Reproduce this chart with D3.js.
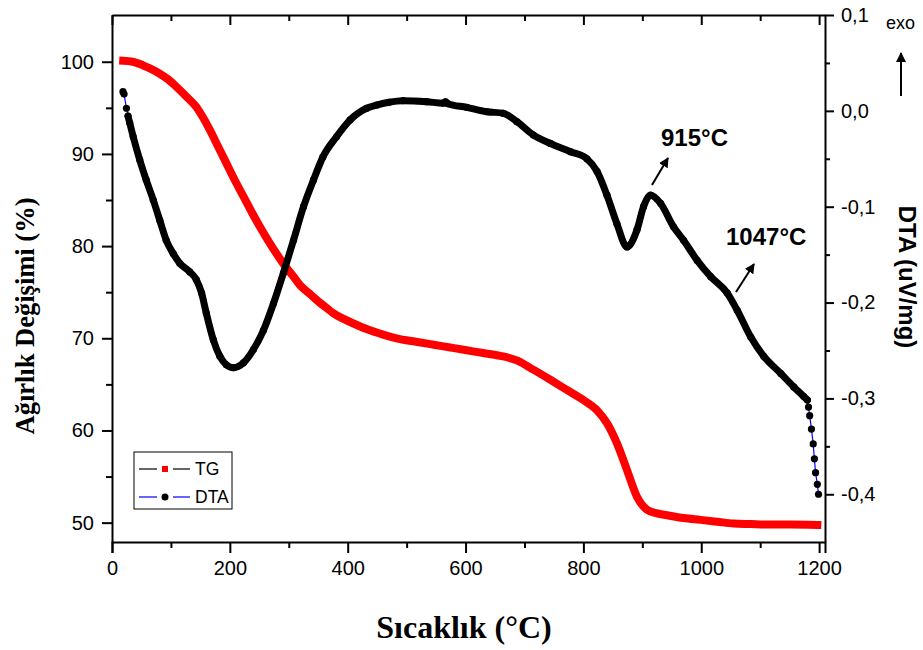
<!DOCTYPE html>
<html>
<head>
<meta charset="utf-8">
<script src="https://cdn.jsdelivr.net/npm/d3@7"></script>
<style>
  html, body { margin: 0; padding: 0; background: #fff; }
  svg { display: block; }
  .tick text { font-family: Arial, "Liberation Sans", sans-serif; }
</style>
</head>
<body>
<svg id="chart" width="923" height="650"></svg>
<script>
// ---------------- DATA ----------------
const xTicks = [0, 200, 400, 600, 800, 1000, 1200];
const leftTicks = [50, 60, 70, 80, 90, 100];
const rightTicks = [-0.4, -0.3, -0.2, -0.1, 0.0, 0.1];

const tgTemp = [19, 35, 53, 67, 81, 95, 109, 125, 143, 155, 166, 180, 194, 208, 223, 237, 251, 265, 279, 293, 308, 320, 336, 350, 364, 376, 393, 410, 432, 460, 489, 518, 546, 574, 602, 630, 659, 687, 715, 744, 772, 800, 823, 840, 857, 874, 891, 908, 925, 942, 970, 999, 1027, 1055, 1084, 1112, 1150, 1197];
const tgValue = [100.1, 100.0, 99.6, 99.2, 98.7, 98.1, 97.3, 96.3, 95.1, 93.9, 92.6, 90.8, 89.0, 87.2, 85.4, 83.7, 82.1, 80.6, 79.2, 77.9, 76.7, 75.7, 74.8, 74.0, 73.3, 72.7, 72.1, 71.6, 71.0, 70.4, 69.9, 69.6, 69.3, 69.0, 68.7, 68.4, 68.1, 67.6, 66.6, 65.5, 64.4, 63.3, 62.2, 60.8, 58.6, 55.7, 52.8, 51.4, 51.0, 50.8, 50.5, 50.3, 50.1, 49.9, 49.85, 49.8, 49.8, 49.75];

const dtaTemp = [18.6, 20.5, 24.5, 27.2, 30, 36, 47, 58, 70, 81, 92, 104, 115, 132, 143, 152, 160, 172, 183, 194, 206, 223, 240, 257, 274, 291, 308, 325, 342, 358, 381, 404, 432, 449, 470, 494, 534, 562, 566, 570, 602, 636, 664, 687, 715, 744, 778, 806, 823, 840, 857, 874, 891, 902, 914, 931, 953, 970, 993, 1016, 1044, 1061, 1084, 1106, 1135, 1157, 1174, 1180, 1182, 1184, 1187, 1190, 1192, 1194, 1197, 1199];
const dtaValue = [0.020, 0.0175, 0.0027, -0.0054, -0.0124, -0.027, -0.051, -0.072, -0.093, -0.114, -0.135, -0.149, -0.159, -0.168, -0.176, -0.190, -0.211, -0.239, -0.256, -0.265, -0.268, -0.263, -0.249, -0.229, -0.201, -0.169, -0.135, -0.100, -0.072, -0.048, -0.027, -0.0095, 0.0027, 0.0061, 0.0090, 0.0106, 0.0096, 0.0080, 0.0095, 0.0075, 0.0037, -0.0009, -0.0025, -0.0113, -0.0252, -0.034, -0.0426, -0.050, -0.063, -0.088, -0.118, -0.142, -0.124, -0.100, -0.088, -0.0965, -0.121, -0.135, -0.156, -0.173, -0.190, -0.208, -0.236, -0.256, -0.274, -0.288, -0.298, -0.3016, -0.309, -0.318, -0.332, -0.3475, -0.363, -0.3775, -0.3896, -0.400];

const seriesNames = ["TG", "DTA"];
const annotations = [{ label: "915°C", temp: 915 }, { label: "1047°C", temp: 1047 }];

// ---------------- LAYOUT ----------------
const svg = d3.select("#chart");
const L = 112, R = 825, T = 15, B = 542;

const x = d3.scaleLinear().domain([0, 1210]).range([L, R]);
const yL = d3.scaleLinear().domain([47.9, 105.07]).range([B, T]);
const yR = d3.scaleLinear().domain([-0.4498, 0.1]).range([B, T]);

const fontTick = "20px";
const fmtComma = v => v.toFixed(1).replace(".", ",");

// ---------------- AXES ----------------
function styleAxis(g) {
  g.selectAll("path.domain").attr("stroke", "#000").attr("stroke-width", 2);
  g.selectAll(".tick line").attr("stroke", "#000").attr("stroke-width", 2);
  g.selectAll(".tick text").attr("fill", "#000").attr("font-size", fontTick);
}

const xMinor = d3.range(100, 1201, 200);
const leftMinor = d3.range(55, 100, 10);
const rightMinor = [-0.35, -0.25, -0.15, -0.05, 0.05];

// bottom
svg.append("g").attr("transform", `translate(0,${B})`)
  .call(d3.axisBottom(x).tickValues(xTicks).tickSize(11).tickPadding(8).tickFormat(d3.format("d")))
  .call(styleAxis);
svg.append("g").attr("transform", `translate(0,${B})`)
  .call(d3.axisBottom(x).tickValues(xMinor).tickSize(6).tickFormat(""))
  .call(styleAxis).select("path.domain").remove();
// top (inward ticks)
svg.append("g").attr("transform", `translate(0,${T})`)
  .call(d3.axisBottom(x).tickValues(xTicks).tickSize(10).tickFormat("").tickSizeOuter(0))
  .call(styleAxis);
svg.append("g").attr("transform", `translate(0,${T})`)
  .call(d3.axisBottom(x).tickValues(xMinor).tickSize(6).tickFormat(""))
  .call(styleAxis).select("path.domain").remove();
// left
svg.append("g").attr("transform", `translate(${L},0)`)
  .call(d3.axisLeft(yL).tickValues(leftTicks).tickSize(10).tickPadding(8).tickFormat(d3.format("d")).tickSizeOuter(0))
  .call(styleAxis);
svg.append("g").attr("transform", `translate(${L},0)`)
  .call(d3.axisLeft(yL).tickValues(leftMinor).tickSize(6).tickFormat(""))
  .call(styleAxis).select("path.domain").remove();
// right
svg.append("g").attr("transform", `translate(${R},0)`)
  .call(d3.axisRight(yR).tickValues(rightTicks).tickSize(9).tickPadding(7).tickFormat(fmtComma).tickSizeOuter(0))
  .call(styleAxis);
svg.append("g").attr("transform", `translate(${R},0)`)
  .call(d3.axisRight(yR).tickValues(rightMinor).tickSize(5).tickFormat(""))
  .call(styleAxis).select("path.domain").remove();

// ---------------- SERIES ----------------
const tgData = tgTemp.map((t, i) => ({ t, v: tgValue[i] }));
const dtaData = dtaTemp.map((t, i) => ({ t, v: dtaValue[i] }));

// TG: dense square markers rendered as a thick band
const tgLine = d3.line().x(d => x(d.t)).y(d => yL(d.v)).curve(d3.curveMonotoneX);
svg.append("path").datum(tgData).attr("d", tgLine)
  .attr("fill", "none").attr("stroke", "#ff0000").attr("stroke-width", 8)
  .attr("stroke-linecap", "square").attr("stroke-linejoin", "round");

// DTA: thin blue connecting line, dense black markers
const dtaLineThin = d3.line().x(d => x(d.t)).y(d => yR(d.v));
svg.append("path").datum(dtaData).attr("d", dtaLineThin)
  .attr("fill", "none").attr("stroke", "#0000ff").attr("stroke-width", 1.2);
const dtaDense = dtaData.filter(d => d.t >= 27 && d.t <= 1180);
const dtaLine = d3.line().x(d => x(d.t)).y(d => yR(d.v)).curve(d3.curveMonotoneX);
svg.append("path").datum(dtaDense).attr("d", dtaLine)
  .attr("fill", "none").attr("stroke", "#000").attr("stroke-width", 7)
  .attr("stroke-linecap", "round").attr("stroke-linejoin", "round");
svg.append("g").selectAll("circle").data(dtaData).join("circle")
  .attr("cx", d => x(d.t)).attr("cy", d => yR(d.v)).attr("r", 3.6).attr("fill", "#000");

// ---------------- ANNOTATIONS ----------------
svg.append("defs").append("marker")
  .attr("id", "ah").attr("viewBox", "0 0 10 10").attr("refX", 9).attr("refY", 5)
  .attr("markerWidth", 5).attr("markerHeight", 5).attr("orient", "auto")
  .append("path").attr("d", "M0,0 L10,5 L0,10 Z").attr("fill", "#000");

function arrow(x1, y1, x2, y2) {
  svg.append("line").attr("x1", x1).attr("y1", y1).attr("x2", x2).attr("y2", y2)
    .attr("stroke", "#000").attr("stroke-width", 2).attr("marker-end", "url(#ah)");
}
arrow(652, 185, 668, 158);
arrow(736, 292, 754, 264);
svg.append("text").attr("x", 661).attr("y", 146).text(annotations[0].label)
  .attr("font-family", "Arial, 'Liberation Sans', sans-serif").attr("font-weight", "bold").attr("font-size", "24px");
svg.append("text").attr("x", 726).attr("y", 245).text(annotations[1].label)
  .attr("font-family", "Arial, 'Liberation Sans', sans-serif").attr("font-weight", "bold").attr("font-size", "24px");

// exo arrow
svg.append("text").attr("x", 886).attr("y", 29).text("exo")
  .attr("font-family", "Arial, 'Liberation Sans', sans-serif").attr("font-size", "18px");
arrow(901, 96, 901, 53);

// ---------------- TITLES ----------------
svg.append("text").attr("x", 464).attr("y", 638).attr("text-anchor", "middle")
  .attr("font-family", "'Liberation Serif', 'Times New Roman', serif").attr("font-weight", "bold").attr("font-size", "32px")
  .text("Sıcaklık (°C)");
svg.append("text").attr("transform", "translate(34,316) rotate(-90)").attr("text-anchor", "middle")
  .attr("font-family", "'Liberation Serif', 'Times New Roman', serif").attr("font-weight", "bold").attr("font-size", "26.5px")
  .text("Ağırlık Değişimi (%)");
svg.append("text").attr("transform", "translate(899,277) rotate(90)").attr("text-anchor", "middle")
  .attr("font-family", "Arial, 'Liberation Sans', sans-serif").attr("font-weight", "bold").attr("font-size", "24px")
  .text("DTA (uV/mg)");

// ---------------- LEGEND ----------------
const lg = svg.append("g");
lg.append("rect").attr("x", 134).attr("y", 452).attr("width", 98).attr("height", 57)
  .attr("fill", "#fff").attr("stroke", "#000").attr("stroke-width", 1);
const rows = [{ name: seriesNames[0], y: 469, line: "#000" }, { name: seriesNames[1], y: 497, line: "#0000ff" }];
rows.forEach((r, i) => {
  lg.append("line").attr("x1", 139).attr("x2", 157).attr("y1", r.y).attr("y2", r.y).attr("stroke", r.line).attr("stroke-width", 1.2);
  lg.append("line").attr("x1", 173).attr("x2", 190).attr("y1", r.y).attr("y2", r.y).attr("stroke", r.line).attr("stroke-width", 1.2);
  if (i === 0) {
    lg.append("rect").attr("x", 162).attr("y", r.y - 3).attr("width", 6).attr("height", 6).attr("fill", "#ff0000");
  } else {
    lg.append("circle").attr("cx", 165).attr("cy", r.y).attr("r", 3.5).attr("fill", "#000");
  }
  lg.append("text").attr("x", 195).attr("y", r.y + 6).text(r.name)
    .attr("font-family", "Arial, 'Liberation Sans', sans-serif").attr("font-size", "17.5px");
});
</script>
</body>
</html>
